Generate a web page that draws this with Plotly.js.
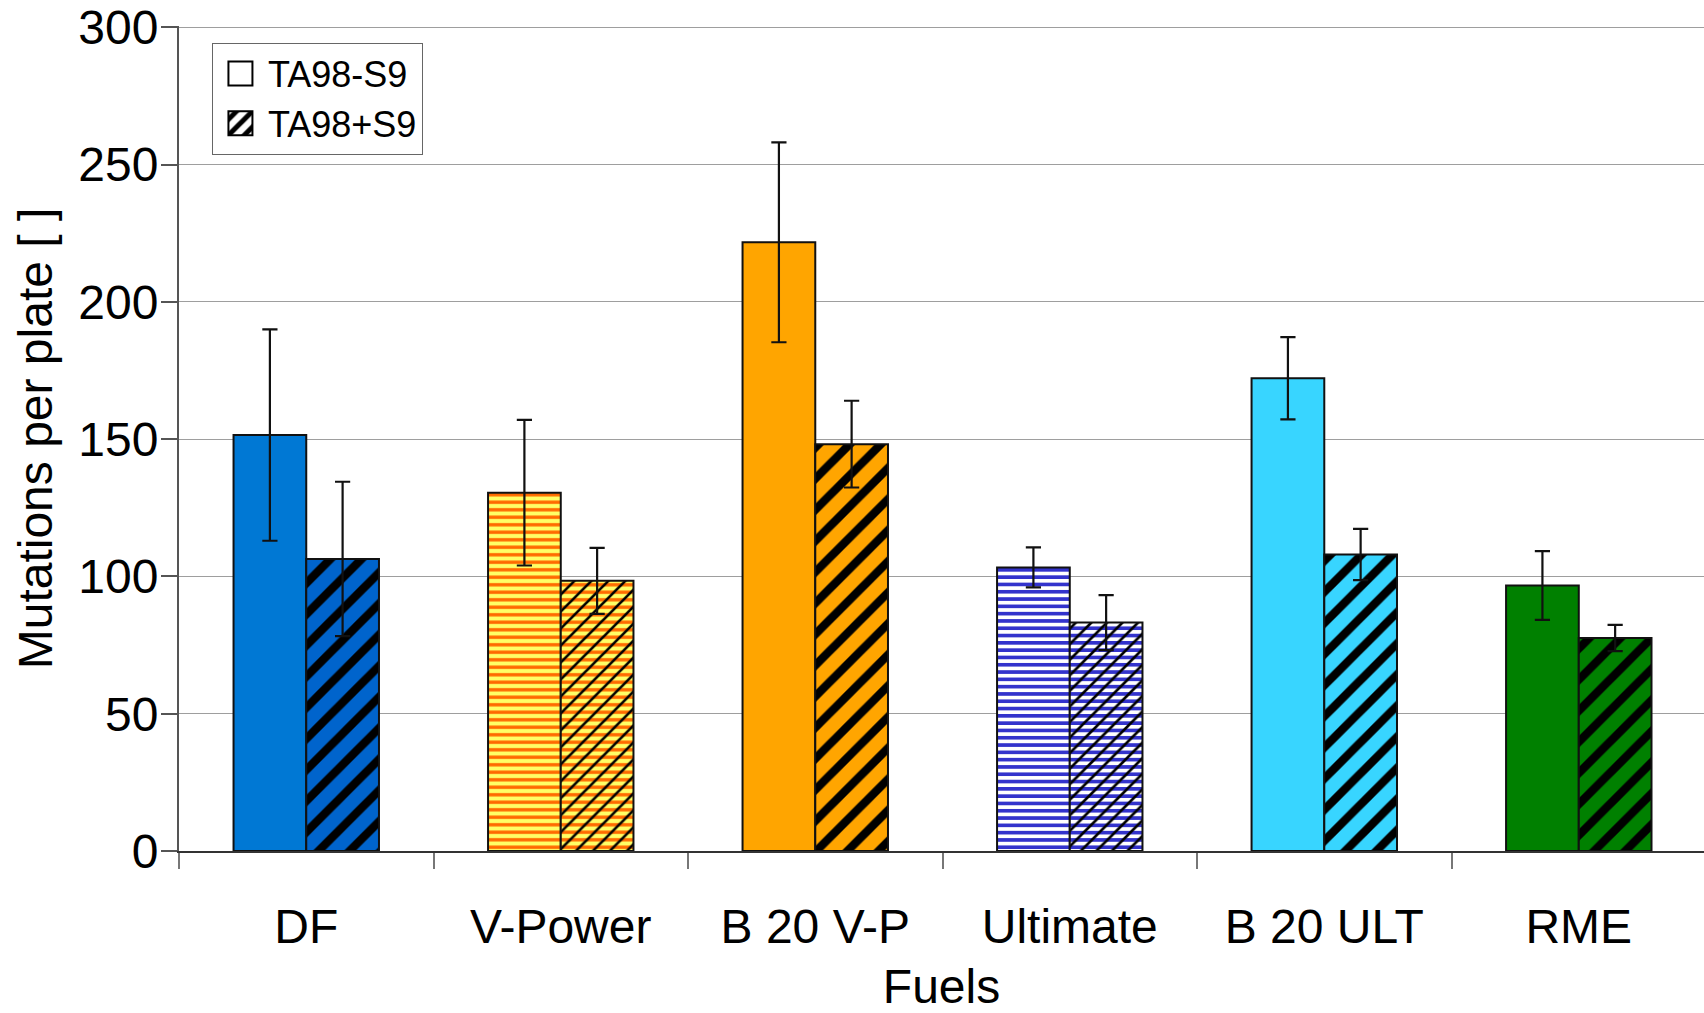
<!DOCTYPE html>
<html>
<head>
<meta charset="utf-8">
<script src="https://cdn.plot.ly/plotly-3.0.1.min.js"></script>
<style>
html,body{margin:0;padding:0;background:#fff;}
#chart{width:1704px;height:1013px;}
</style>
</head>
<body>
<div id="chart"></div>
<script>
// ---- data ----
const fuels = ['DF', 'V-Power', 'B 20 V-P', 'Ultimate', 'B 20 ULT', 'RME'];
const ta98MinusS9 = [151.5, 130.5, 221.7, 103.3, 172.2, 96.7];
const ta98MinusS9Err = [38.5, 26.5, 36.4, 7.3, 15.0, 12.5];
const ta98PlusS9 = [106.4, 98.4, 148.2, 83.2, 108.0, 77.6];
const ta98PlusS9Err = [28.1, 12.0, 15.8, 10.0, 9.3, 4.8];
const seriesNames = ['TA98-S9', 'TA98+S9'];
const yTickVals = [0, 50, 100, 150, 200, 250, 300];

// ---- styles ----
const minusBg = ['#0078D4', '#FFFF66', '#FFA500', '#FFFFFF', '#38D5FF', '#008000'];
const plusBg = ['#0064CC', '#FFFF66', '#FFA500', '#FFFFFF', '#38D5FF', '#008000'];
const stripeColor = [null, '#FF6A00', null, '#3333CC', null, null];
const stripeSize = {'#FF6A00': 7.5, '#3333CC': 7.3};
const stripeSolidity = {'#FF6A00': 0.45, '#3333CC': 0.5};
const hatchSize = [22, 12, 22, 11, 22, 22];
const hatchSolidity = [0.38, 0.22, 0.38, 0.24, 0.38, 0.38];

const FONT = 'Liberation Sans, Arial, sans-serif';
const barW = 0.2857;
const errStyle = {thickness: 2.2, width: 7.6, color: '#111'};
const CLEAR = 'rgba(0,0,0,0)';

// keep only the values of bars whose stripe colour is col
function pick(values, col) {
  return values.map(function (v, i) { return stripeColor[i] === col ? v : null; });
}

function baseTrace(values, name, offset, colors) {
  return {
    type: 'bar', name: name, x: fuels, y: values, width: barW, offset: offset,
    showlegend: false, hoverinfo: 'skip',
    marker: {color: colors, line: {width: 0}}
  };
}
function stripeTrace(values, name, offset, col) {
  return {
    type: 'bar', name: name, x: fuels, y: pick(values, col), width: barW, offset: offset,
    showlegend: false, hoverinfo: 'skip',
    marker: {color: CLEAR, line: {width: 0},
             pattern: {shape: '-', fgcolor: col, fgopacity: 1, size: stripeSize[col],
                       solidity: stripeSolidity[col], fillmode: 'overlay'}}
  };
}

const traces = [
  baseTrace(ta98MinusS9, seriesNames[0], -barW, minusBg),
  stripeTrace(ta98MinusS9, seriesNames[0], -barW, '#FF6A00'),
  stripeTrace(ta98MinusS9, seriesNames[0], -barW, '#3333CC'),
  {
    type: 'bar', name: seriesNames[0], x: fuels, y: ta98MinusS9,
    width: barW, offset: -barW, showlegend: false, hoverinfo: 'x+y',
    marker: {color: CLEAR, line: {color: '#111', width: 2}},
    error_y: Object.assign({type: 'data', array: ta98MinusS9Err, visible: true}, errStyle)
  },
  baseTrace(ta98PlusS9, seriesNames[1], 0, plusBg),
  stripeTrace(ta98PlusS9, seriesNames[1], 0, '#FF6A00'),
  stripeTrace(ta98PlusS9, seriesNames[1], 0, '#3333CC'),
  {
    type: 'bar', name: seriesNames[1], x: fuels, y: ta98PlusS9,
    width: barW, offset: 0, showlegend: false, hoverinfo: 'x+y',
    marker: {
      color: CLEAR,
      line: {color: '#111', width: 2},
      pattern: {shape: '/', fgcolor: '#000000', fgopacity: 1,
                size: hatchSize, solidity: hatchSolidity, fillmode: 'overlay'}
    },
    error_y: Object.assign({type: 'data', array: ta98PlusS9Err, visible: true}, errStyle)
  },
  // legend entries
  {
    type: 'bar', name: seriesNames[0], x: [fuels[0]], y: [null], showlegend: true,
    marker: {color: '#FFFFFF', line: {color: '#000', width: 1}}
  },
  {
    type: 'bar', name: seriesNames[1], x: [fuels[0]], y: [null], showlegend: true,
    marker: {color: '#FFFFFF', line: {color: '#000', width: 1},
             pattern: {shape: '/', fgcolor: '#000000', fgopacity: 1, size: 7, solidity: 0.45, fillmode: 'overlay'}}
  }
];

const layout = {
  width: 1704, height: 1013,
  margin: {l: 179, r: 0, t: 26, b: 162},
  paper_bgcolor: '#FFFFFF', plot_bgcolor: '#FFFFFF',
  barmode: 'overlay',
  font: {family: FONT, color: '#000', size: 48},
  showlegend: true,
  legend: {
    x: 0.0216, y: 0.98, xanchor: 'left', yanchor: 'top',
    bgcolor: '#FFFFFF', bordercolor: '#666', borderwidth: 1,
    font: {family: FONT, size: 36, color: '#000'},
    itemwidth: 45, traceorder: 'normal'
  },
  xaxis: {
    type: 'category',
    range: [-0.5, 5.492],
    tickson: 'boundaries',
    ticks: 'outside', ticklen: 16, tickwidth: 2, tickcolor: '#777',
    ticklabelstandoff: 32,
    showline: true, linecolor: '#333', linewidth: 2,
    showgrid: false, zeroline: false,
    tickfont: {family: FONT, size: 48, color: '#000'},
    title: {text: 'Fuels', font: {family: FONT, size: 48, color: '#000'}, standoff: 26}
  },
  yaxis: {
    range: [0, 300.5],
    tickvals: yTickVals,
    ticktext: yTickVals.map(String),
    ticks: 'outside', ticklen: 16, tickwidth: 1.5, tickcolor: '#555',
    ticklabelstandoff: -7,
    ticklabeloverflow: 'allow',
    showline: true, linecolor: '#555', linewidth: 2,
    showgrid: true, gridcolor: '#9E9E9E', gridwidth: 1.2,
    zeroline: false,
    tickfont: {family: FONT, size: 48, color: '#000'},
    title: {text: 'Mutations per plate [ ]', font: {family: FONT, size: 48, color: '#000'}, standoff: 11}
  }
};

Plotly.newPlot('chart', traces, layout, {displayModeBar: false, responsive: false}).then(function (gd) {
  gd.querySelectorAll('.legend .legendpoints path').forEach(function (p) {
    const t = p.getAttribute('transform') || '';
    p.setAttribute('transform', t + ' scale(2)');
  });
});
</script>
</body>
</html>
